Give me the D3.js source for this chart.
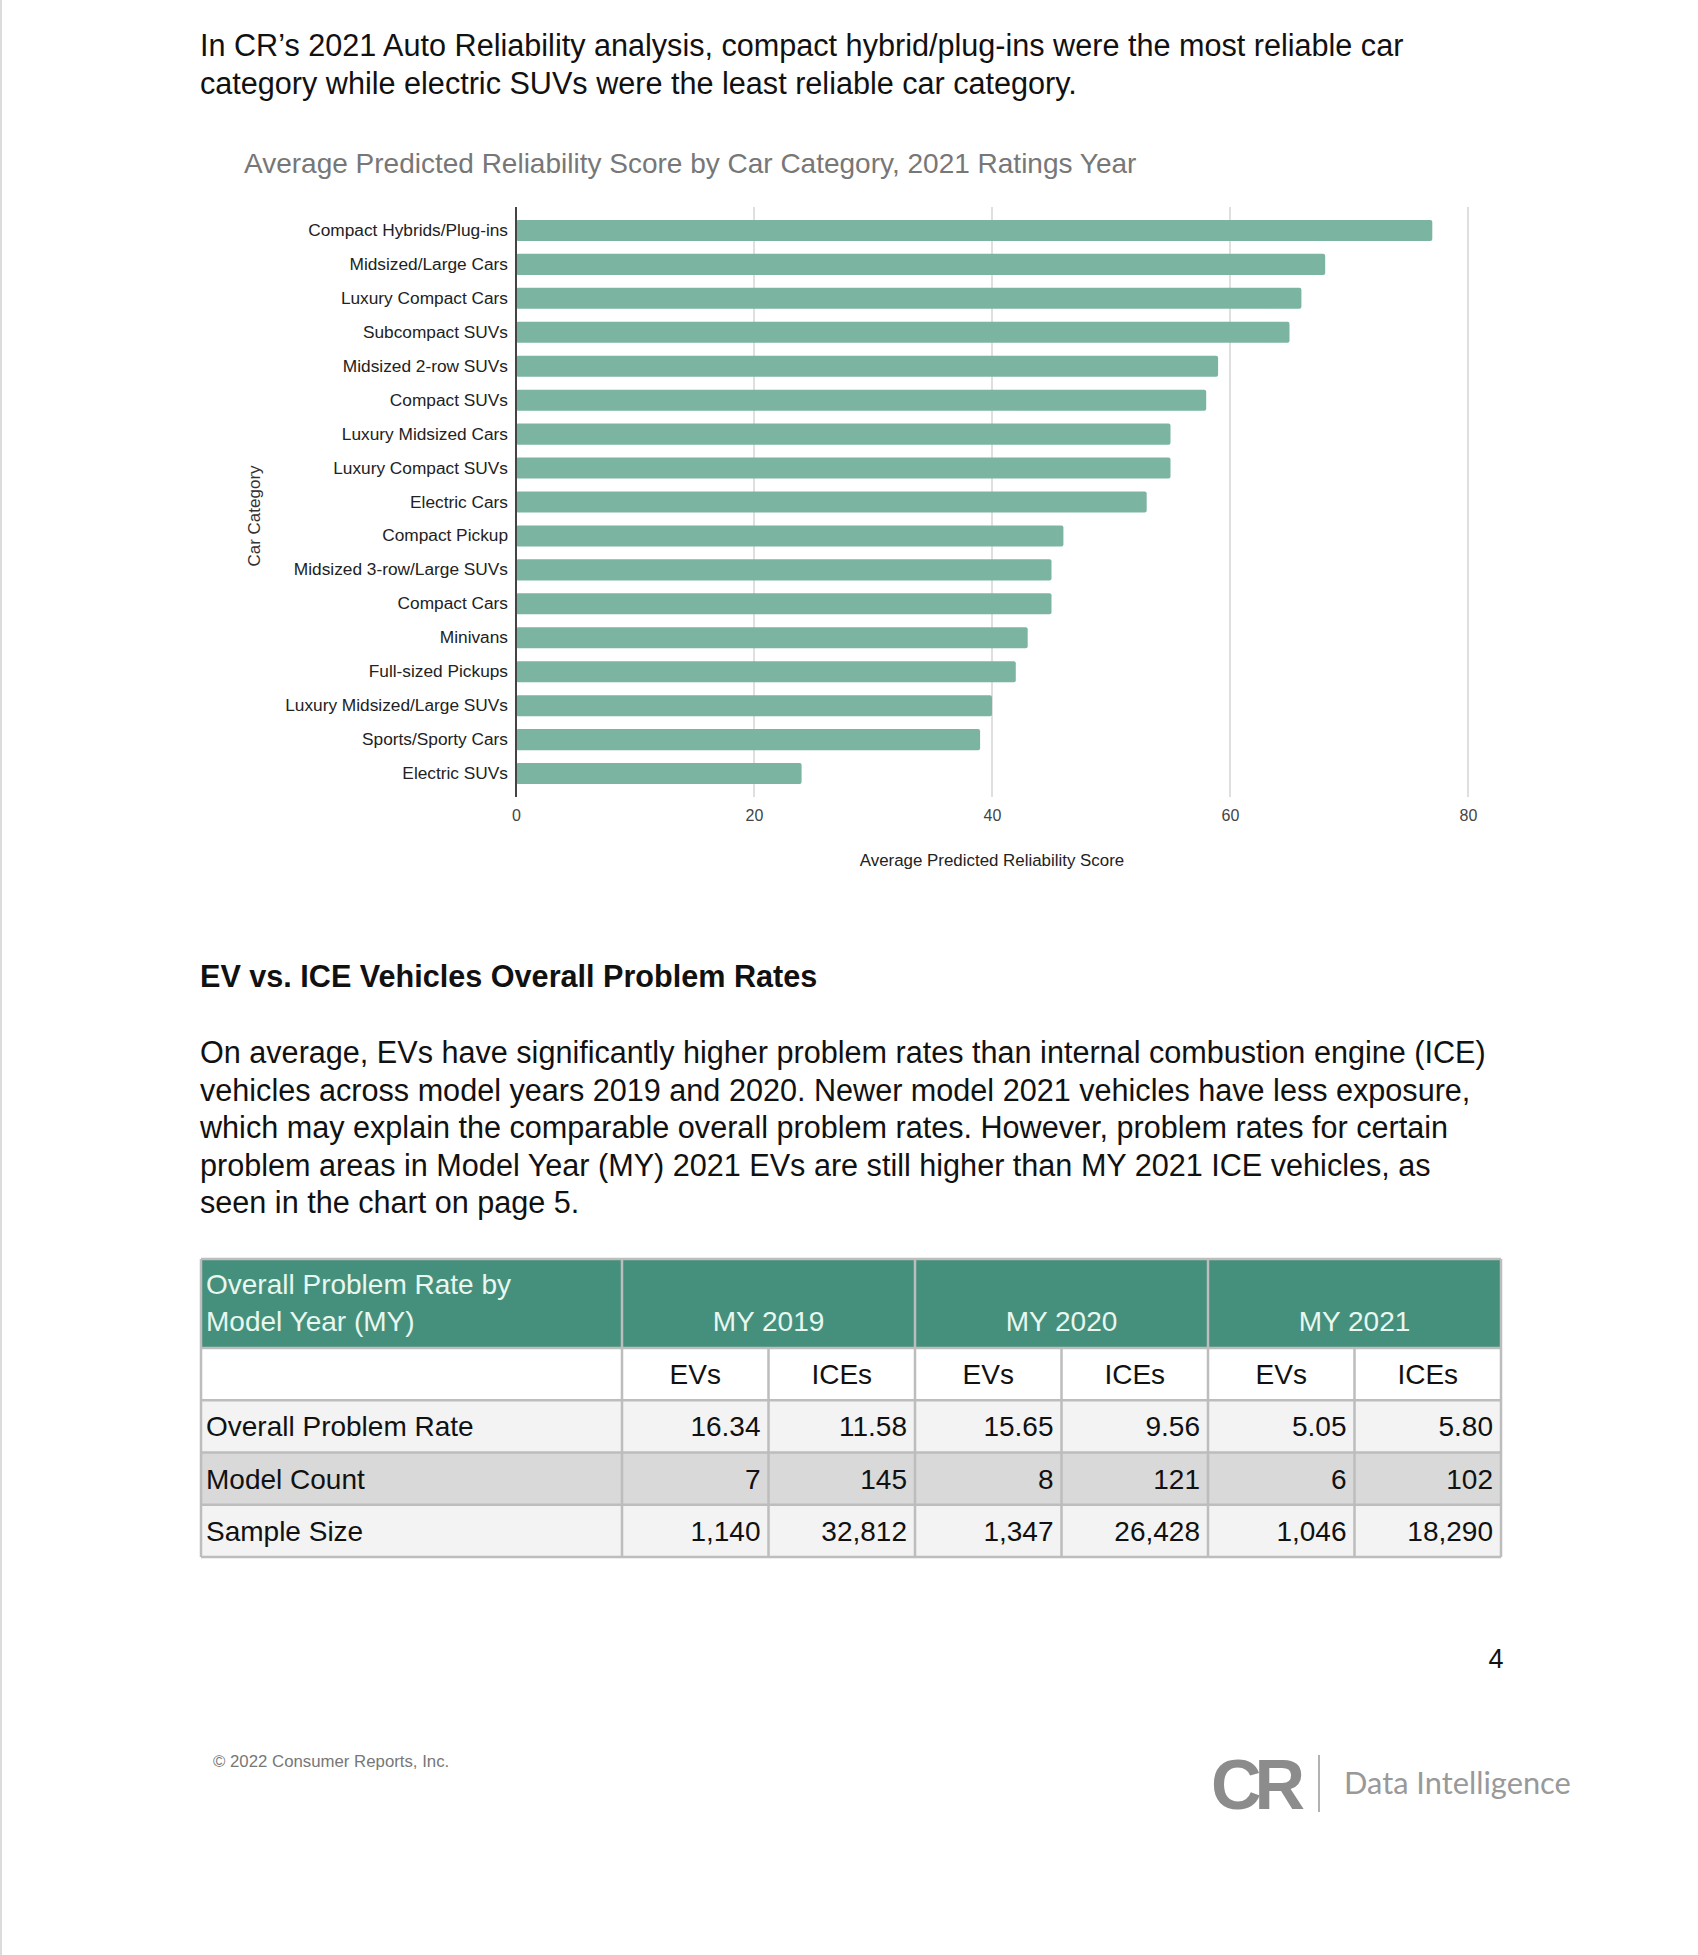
<!DOCTYPE html>
<html>
<head>
<meta charset="utf-8">
<script src="https://cdn.jsdelivr.net/npm/d3@7"></script>
<style>
body { margin: 0; background: #fff; }
svg text { font-family: "Liberation Sans", Arial, sans-serif; }
</style>
</head>
<body>
<div id="page"></div>
<script>
var categories = ["Compact Hybrids/Plug-ins", "Midsized/Large Cars", "Luxury Compact Cars",
    "Subcompact SUVs", "Midsized 2-row SUVs", "Compact SUVs", "Luxury Midsized Cars",
    "Luxury Compact SUVs", "Electric Cars", "Compact Pickup", "Midsized 3-row/Large SUVs",
    "Compact Cars", "Minivans", "Full-sized Pickups", "Luxury Midsized/Large SUVs",
    "Sports/Sporty Cars", "Electric SUVs"];
var scores = [77, 68, 66, 65, 59, 58, 55, 55, 53, 46, 45, 45, 43, 42, 40, 39, 24];
var xTicks = [0, 20, 40, 60, 80];

var modelYears = ["MY 2019", "MY 2020", "MY 2021"];
var subCols = ["EVs", "ICEs"];
var rowLabels = ["Overall Problem Rate", "Model Count", "Sample Size"];
var problemRate = ["16.34", "11.58", "15.65", "9.56", "5.05", "5.80"];
var modelCount = ["7", "145", "8", "121", "6", "102"];
var sampleSize = ["1,140", "32,812", "1,347", "26,428", "1,046", "18,290"];

var introLines = ["In CR\u2019s 2021 Auto Reliability analysis, compact hybrid/plug-ins were the most reliable car",
    "category while electric SUVs were the least reliable car category."];
var bodyLines = ["On average, EVs have significantly higher problem rates than internal combustion engine (ICE)",
    "vehicles across model years 2019 and 2020. Newer model 2021 vehicles have less exposure,",
    "which may explain the comparable overall problem rates. However, problem rates for certain",
    "problem areas in Model Year (MY) 2021 EVs are still higher than MY 2021 ICE vehicles, as",
    "seen in the chart on page 5."];

var width = 1698,
    height = 1955,
    barColor = "#7bb5a2",
    headColor = "#45907c",
    textSize = 30.6;

var svg = d3.select("#page").append("svg")
    .attr("width", width)
    .attr("height", height);

svg.append("rect").attr("width", width).attr("height", height).attr("fill", "#fff");
svg.append("line").attr("x1", 1).attr("x2", 1).attr("y1", 0).attr("y2", height)
    .attr("stroke", "#dcdcdc").attr("stroke-width", 2);

// intro paragraph
svg.selectAll(".intro").data(introLines).enter().append("text")
    .attr("class", "intro")
    .attr("x", 200)
    .attr("y", function (d, i) { return 56 + i * 38; })
    .attr("font-size", textSize)
    .attr("fill", "#111")
    .text(function (d) { return d; });

// bar chart
var x = d3.scaleLinear().domain([0, 80]).range([516, 1468]);
var y = d3.scaleBand().domain(categories).range([207, 797]).padding(0.38);

svg.append("text")
    .attr("x", 244).attr("y", 173)
    .attr("font-size", 28)
    .attr("fill", "#777")
    .text("Average Predicted Reliability Score by Car Category, 2021 Ratings Year");

var grid = svg.append("g");
grid.selectAll("line").data(xTicks.slice(1)).enter().append("line")
    .attr("x1", function (d) { return x(d); })
    .attr("x2", function (d) { return x(d); })
    .attr("y1", 207).attr("y2", 797)
    .attr("stroke", "#d4d4d4").attr("stroke-width", 1.5);

svg.append("g").selectAll("rect")
    .data(scores).enter().append("rect")
    .attr("x", x(0))
    .attr("y", function (d, i) { return y(categories[i]); })
    .attr("width", function (d) { return x(d) - x(0); })
    .attr("height", y.bandwidth())
    .attr("rx", 2)
    .attr("fill", barColor);

svg.append("line")
    .attr("x1", x(0)).attr("x2", x(0)).attr("y1", 207).attr("y2", 797)
    .attr("stroke", "#444").attr("stroke-width", 2);

var xAxis = svg.append("g")
    .attr("transform", "translate(0,797)")
    .call(d3.axisBottom(x).tickValues(xTicks).tickSize(0).tickPadding(13));
xAxis.select(".domain").remove();
xAxis.selectAll("text")
    .attr("font-size", 16)
    .attr("fill", "#444")
    .style("font-family", "\"Liberation Sans\", Arial, sans-serif");

var yAxis = svg.append("g")
    .attr("transform", "translate(" + x(0) + ",0)")
    .call(d3.axisLeft(y).tickSize(0).tickPadding(8));
yAxis.select(".domain").remove();
yAxis.selectAll("text")
    .attr("font-size", 17.3)
    .attr("fill", "#222")
    .style("font-family", "\"Liberation Sans\", Arial, sans-serif");

svg.append("text")
    .attr("x", (x(0) + x(80)) / 2).attr("y", 866)
    .attr("text-anchor", "middle")
    .attr("font-size", 16.9)
    .attr("fill", "#222")
    .text("Average Predicted Reliability Score");

svg.append("text")
    .attr("transform", "translate(254,516) rotate(-90)")
    .attr("text-anchor", "middle")
    .attr("dy", ".35em")
    .attr("font-size", 17)
    .attr("fill", "#333")
    .text("Car Category");

// section heading and paragraph
svg.append("text")
    .attr("x", 200).attr("y", 987)
    .attr("font-size", textSize)
    .attr("font-weight", "bold")
    .attr("fill", "#111")
    .text("EV vs. ICE Vehicles Overall Problem Rates");

svg.selectAll(".body").data(bodyLines).enter().append("text")
    .attr("class", "body")
    .attr("x", 200)
    .attr("y", function (d, i) { return 1063 + i * 37.5; })
    .attr("font-size", textSize)
    .attr("fill", "#111")
    .text(function (d) { return d; });

// table
var tLeft = 201, tRight = 1501, firstColR = 622,
    tTop = 1259, headBottom = 1348, tBottom = 1557;

var colKeys = d3.range(6);
var col = d3.scaleBand().domain(colKeys).range([firstColR, tRight]);
var yearCol = d3.scaleBand().domain(modelYears).range([firstColR, tRight]);
var rowKeys = ["sub"].concat(rowLabels);
var row = d3.scaleBand().domain(rowKeys).range([headBottom, tBottom]);
var rowFill = { "sub": "#ffffff", "Overall Problem Rate": "#f3f3f3", "Model Count": "#d9d9d9", "Sample Size": "#f3f3f3" };
var rowValues = { "Overall Problem Rate": problemRate, "Model Count": modelCount, "Sample Size": sampleSize };

var table = svg.append("g");

table.append("rect")
    .attr("x", tLeft).attr("y", tTop)
    .attr("width", tRight - tLeft).attr("height", headBottom - tTop)
    .attr("fill", headColor);

table.selectAll(".rowbg").data(rowKeys).enter().append("rect")
    .attr("class", "rowbg")
    .attr("x", tLeft).attr("y", function (d) { return row(d); })
    .attr("width", tRight - tLeft).attr("height", row.bandwidth())
    .attr("fill", function (d) { return rowFill[d]; });

var lineColor = "#bdbdbd";
// horizontal rules
table.selectAll(".hrule").data([tTop, headBottom].concat(rowKeys.map(function (d) { return row(d) + row.bandwidth(); })))
    .enter().append("line")
    .attr("x1", tLeft).attr("x2", tRight)
    .attr("y1", function (d) { return d; }).attr("y2", function (d) { return d; })
    .attr("stroke", lineColor).attr("stroke-width", 2.5);
// vertical rules: full height at year boundaries, sub-columns below header
table.selectAll(".vfull").data([tLeft, firstColR].concat(modelYears.map(function (d) { return yearCol(d) + yearCol.bandwidth(); })))
    .enter().append("line")
    .attr("x1", function (d) { return d; }).attr("x2", function (d) { return d; })
    .attr("y1", tTop).attr("y2", tBottom)
    .attr("stroke", lineColor).attr("stroke-width", 2.5);
table.selectAll(".vsub").data([1, 3, 5]).enter().append("line")
    .attr("x1", function (d) { return col(d); }).attr("x2", function (d) { return col(d); })
    .attr("y1", headBottom).attr("y2", tBottom)
    .attr("stroke", lineColor).attr("stroke-width", 2.5);

var fs = 28;
table.selectAll(".headtxt").data(["Overall Problem Rate by", "Model Year (MY)"]).enter().append("text")
    .attr("x", 206).attr("y", function (d, i) { return 1294 + i * 37; })
    .attr("font-size", fs).attr("fill", "#e8f7f0")
    .text(function (d) { return d; });

table.selectAll(".year").data(modelYears).enter().append("text")
    .attr("x", function (d) { return yearCol(d) + yearCol.bandwidth() / 2; })
    .attr("y", 1331)
    .attr("text-anchor", "middle")
    .attr("font-size", fs).attr("fill", "#e8f7f0")
    .text(function (d) { return d; });

table.selectAll(".sub").data(colKeys).enter().append("text")
    .attr("x", function (d) { return col(d) + col.bandwidth() / 2; })
    .attr("y", row("sub") + row.bandwidth() / 2 + 10)
    .attr("text-anchor", "middle")
    .attr("font-size", fs).attr("fill", "#111")
    .text(function (d) { return subCols[d % 2]; });

rowLabels.forEach(function (r) {
    var yy = row(r) + row.bandwidth() / 2 + 10;
    table.append("text")
        .attr("x", 206).attr("y", yy)
        .attr("font-size", fs).attr("fill", "#111")
        .text(r);
    table.selectAll(null).data(rowValues[r]).enter().append("text")
        .attr("x", function (d, i) { return col(i) + col.bandwidth() - 8; })
        .attr("y", yy)
        .attr("text-anchor", "end")
        .attr("font-size", fs).attr("fill", "#111")
        .text(function (d) { return d; });
});

// footer
svg.append("text")
    .attr("x", 1496).attr("y", 1668)
    .attr("text-anchor", "middle")
    .attr("font-size", 27).attr("fill", "#111")
    .text("4");

svg.append("text")
    .attr("x", 213).attr("y", 1767)
    .attr("font-size", 16.8).attr("fill", "#777")
    .text("\u00a9 2022 Consumer Reports, Inc.");

svg.append("text")
    .attr("x", 1211).attr("y", 1809)
    .attr("font-size", 70).attr("font-weight", "bold")
    .attr("letter-spacing", -7)
    .attr("fill", "#8c8c8c")
    .text("CR");

svg.append("line")
    .attr("x1", 1319).attr("x2", 1319).attr("y1", 1755).attr("y2", 1812)
    .attr("stroke", "#999").attr("stroke-width", 1.5);

svg.append("text")
    .attr("x", 1344).attr("y", 1794)
    .attr("font-size", 30.8)
    .style("font-family", "Lato, sans-serif")
    .attr("fill", "#999")
    .text("Data Intelligence");
</script>
</body>
</html>
